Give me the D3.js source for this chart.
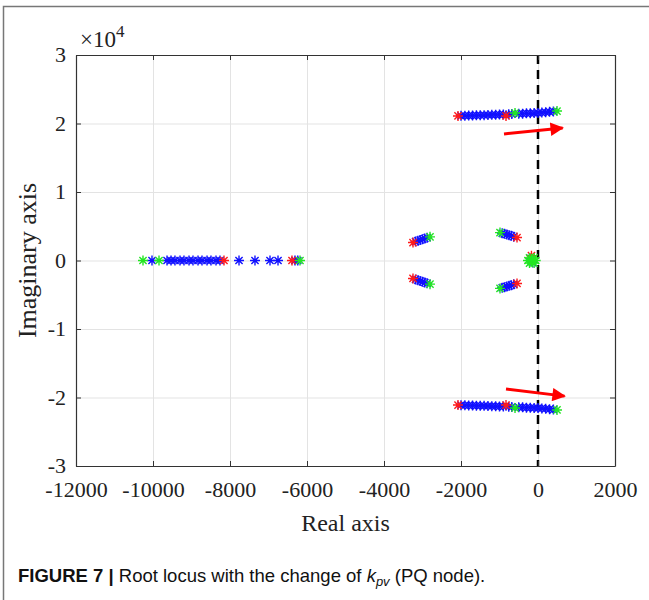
<!DOCTYPE html>
<html lang="en">
  <head>
    <meta charset="utf-8" />
    <title>Root locus with the change of kpv</title>
    <script src="https://d3js.org/d3.v7.min.js"></script>
    <style>
      body { margin: 0; background: #fff; }
      svg { display: block; }
    </style>
  </head>
  <body>
    <div id="content"></div>
    <script>
      // pole positions: [real, imaginary]
      const bluePoles = [
        [-10026, 0], [-9636, 0], [-9532, 0], [-9429, 0], [-9299, 0], [-9195, 0],
        [-9065, 0], [-8961, 0], [-8831, 0], [-8727, 0], [-8597, 0], [-8494, 0],
        [-8364, 0], [-8260, 0], [-7766, 0], [-7351, 0], [-6961, 0], [-6753, 0],
        [-6312, 0], [-6240, 0],
        [-2000, 21120], [-1900, 21140], [-1800, 21150], [-1700, 21170], [-1600, 21190],
        [-1500, 21200], [-1400, 21220], [-1300, 21240], [-1200, 21260], [-1100, 21280],
        [-1000, 21300], [-900, 21320], [-760, 21350], [-680, 21380], [-500, 21420],
        [-400, 21440], [-300, 21480], [-200, 21500], [-100, 21520], [0, 21550],
        [100, 21600], [200, 21640], [300, 21700], [400, 21760],
        [-2000, -21120], [-1900, -21140], [-1800, -21150], [-1700, -21170], [-1600, -21190],
        [-1500, -21200], [-1400, -21220], [-1300, -21240], [-1200, -21260], [-1100, -21280],
        [-1000, -21300], [-900, -21320], [-760, -21350], [-680, -21380], [-500, -21420],
        [-400, -21440], [-300, -21480], [-200, -21500], [-100, -21520], [0, -21550],
        [100, -21600], [200, -21640], [300, -21700], [400, -21760],
        [-3180, 2760], [-3120, 2880], [-3060, 2990], [-3000, 3100], [-2940, 3210], [-2880, 3330],
        [-3180, -2760], [-3120, -2880], [-3060, -2990], [-3000, -3100], [-2940, -3210], [-2880, -3330],
        [-930, 3980], [-870, 3890], [-810, 3800], [-750, 3700], [-690, 3600], [-630, 3480],
        [-930, -3980], [-870, -3890], [-810, -3800], [-750, -3700], [-690, -3600], [-630, -3480],
        [-180, 300], [-140, -300]
      ];
      const redPoles = [
        [-8156, 0], [-6390, 0],
        [-2078, 21100], [-831, 21100],
        [-2078, -21100], [-831, -21100],
        [-3247, 2620], [-3247, -2620],
        [-545, 3350], [-545, -3350],
        [-170, 700]
      ];
      const greenPoles = [
        [-10260, 0], [-9844, 0], [-6182, 0],
        [-597, 21530], [494, 21820],
        [-597, -21530], [494, -21820],
        [-2805, 3450], [-2805, -3450],
        [-987, 4070], [-987, -4070],
        [-160, 0], [-220, 380], [-220, -380], [-100, 380], [-100, -380], [-60, 0], [-260, 0]
      ];
      // red arrows: [tailReal, tailImag, tipReal, tipImag]
      const arrows = [
        [-883, 18470, 640, 19350],
        [-831, -18760, 690, -19800]
      ];
      const xTicks = [-12000, -10000, -8000, -6000, -4000, -2000, 0, 2000];
      const yTicks = [-3, -2, -1, 0, 1, 2, 3];

      const width = 649;
      const height = 600;
      const margin = { top: 55, right: 34, bottom: 134, left: 76 };
      const serif = "'Liberation Serif', 'Times New Roman', serif";

      const svg = d3
        .select("#content")
        .append("svg")
        .attr("width", width)
        .attr("height", height);

      // figure frame
      svg.append("path")
        .attr("d", `M3.5,${height} L3.5,6.5 L${width},6.5`)
        .attr("fill", "none")
        .attr("stroke", "#777")
        .attr("stroke-width", 1.5);

      const x = d3.scaleLinear()
        .domain([-12000, 2000])
        .range([margin.left, width - margin.right]);
      const y = d3.scaleLinear()
        .domain([-3, 3])
        .range([height - margin.bottom, margin.top]);
      const yy = (v) => y(v / 1e4);

      const plot = svg.append("g");

      // grid
      plot.append("g")
        .attr("transform", `translate(0,${height - margin.bottom})`)
        .call(d3.axisBottom(x).tickValues(xTicks)
          .tickSize(-(height - margin.top - margin.bottom)).tickFormat(""))
        .call((g) => g.select(".domain").remove())
        .call((g) => g.selectAll("line").attr("stroke", "#e3e3e3"));
      plot.append("g")
        .attr("transform", `translate(${margin.left},0)`)
        .call(d3.axisLeft(y).tickValues(yTicks)
          .tickSize(-(width - margin.left - margin.right)).tickFormat(""))
        .call((g) => g.select(".domain").remove())
        .call((g) => g.selectAll("line").attr("stroke", "#e3e3e3"));

      // dashed line at zero
      plot.append("line")
        .attr("x1", x(0)).attr("x2", x(0))
        .attr("y1", margin.top).attr("y2", height - margin.bottom)
        .attr("stroke", "#000")
        .attr("stroke-width", 2.5)
        .attr("stroke-dasharray", "9,6");

      const star = (r) => {
        const a = r * 0.72;
        return `M${-r},0L${r},0M0,${-r}L0,${r}M${-a},${-a}L${a},${a}M${-a},${a}L${a},${-a}`;
      };

      const drawPoles = (data, color) => {
        plot.append("g")
          .selectAll("path")
          .data(data)
          .enter()
          .append("path")
          .attr("d", star(5))
          .attr("transform", (d) => `translate(${x(d[0])},${yy(d[1])})`)
          .attr("fill", "none")
          .attr("stroke", color)
          .attr("stroke-width", 1.4);
      };
      drawPoles(bluePoles, "#1010ff");
      drawPoles(redPoles, "#ff1a1a");
      drawPoles(greenPoles, "#22e622");

      // arrows
      svg.append("defs").append("marker")
        .attr("id", "head")
        .attr("viewBox", "0 0 10 10")
        .attr("refX", 9).attr("refY", 5)
        .attr("markerWidth", 5).attr("markerHeight", 4.5)
        .attr("markerUnits", "strokeWidth")
        .attr("orient", "auto")
        .append("path")
        .attr("d", "M0,0L10,5L0,10Z")
        .attr("fill", "#f00");
      plot.append("g")
        .selectAll("line")
        .data(arrows)
        .enter()
        .append("line")
        .attr("x1", (d) => x(d[0])).attr("y1", (d) => yy(d[1]))
        .attr("x2", (d) => x(d[2])).attr("y2", (d) => yy(d[3]))
        .attr("stroke", "#f00")
        .attr("stroke-width", 3)
        .attr("marker-end", "url(#head)");

      // box and inward ticks
      const axisColor = "#333";
      const fmt = (d) => String(d);
      const axes = svg.append("g");
      const bottom = axes.append("g")
        .attr("transform", `translate(0,${height - margin.bottom})`)
        .call(d3.axisBottom(x).tickValues(xTicks).tickSizeInner(-5).tickSizeOuter(0)
          .tickPadding(15).tickFormat(fmt));
      axes.append("g")
        .attr("transform", `translate(0,${margin.top})`)
        .call(d3.axisTop(x).tickValues(xTicks).tickSizeInner(-5).tickSizeOuter(0).tickFormat(""));
      const left = axes.append("g")
        .attr("transform", `translate(${margin.left},0)`)
        .call(d3.axisLeft(y).tickValues(yTicks).tickSizeInner(-5).tickSizeOuter(0)
          .tickPadding(10).tickFormat(fmt));
      axes.append("g")
        .attr("transform", `translate(${width - margin.right},0)`)
        .call(d3.axisRight(y).tickValues(yTicks).tickSizeInner(-5).tickSizeOuter(0).tickFormat(""));
      axes.selectAll(".domain").attr("stroke", axisColor).attr("stroke-width", 1.2);
      axes.selectAll(".tick line").attr("stroke", axisColor);
      axes.selectAll("text")
        .attr("font-family", serif)
        .attr("font-size", 22)
        .attr("fill", "#222");
      bottom.selectAll("text").attr("dy", "0.71em");
      left.selectAll(".tick text").attr("dy", "0.3em");

      // exponent
      const expo = svg.append("text")
        .attr("x", 80).attr("y", 47)
        .attr("font-family", serif)
        .attr("font-size", 23)
        .attr("fill", "#222");
      expo.append("tspan").text("\u00d710");
      expo.append("tspan").attr("dy", -10).attr("font-size", 17).text("4");

      // axis titles
      svg.append("text")
        .attr("x", x(-5000)).attr("y", 531)
        .attr("text-anchor", "middle")
        .attr("font-family", serif)
        .attr("font-size", 24)
        .attr("fill", "#222")
        .text("Real axis");
      svg.append("text")
        .attr("transform", `translate(36,${y(0)}) rotate(-90)`)
        .attr("text-anchor", "middle")
        .attr("font-family", serif)
        .attr("font-size", 26)
        .attr("fill", "#222")
        .text("Imaginary axis");

      // caption
      const cap = svg.append("text")
        .attr("x", 18).attr("y", 582)
        .attr("font-family", "'Liberation Sans', Arial, sans-serif")
        .attr("font-size", 18.5)
        .attr("fill", "#111");
      cap.append("tspan").attr("font-weight", "bold").text("FIGURE 7 | ");
      cap.append("tspan").text("Root locus with the change of ");
      cap.append("tspan").attr("font-style", "italic").text("k");
      cap.append("tspan").attr("font-style", "italic").attr("font-size", 13).attr("dy", 4).text("pv");
      cap.append("tspan").attr("dy", -4).text(" (PQ node).");
    </script>
  </body>
</html>
